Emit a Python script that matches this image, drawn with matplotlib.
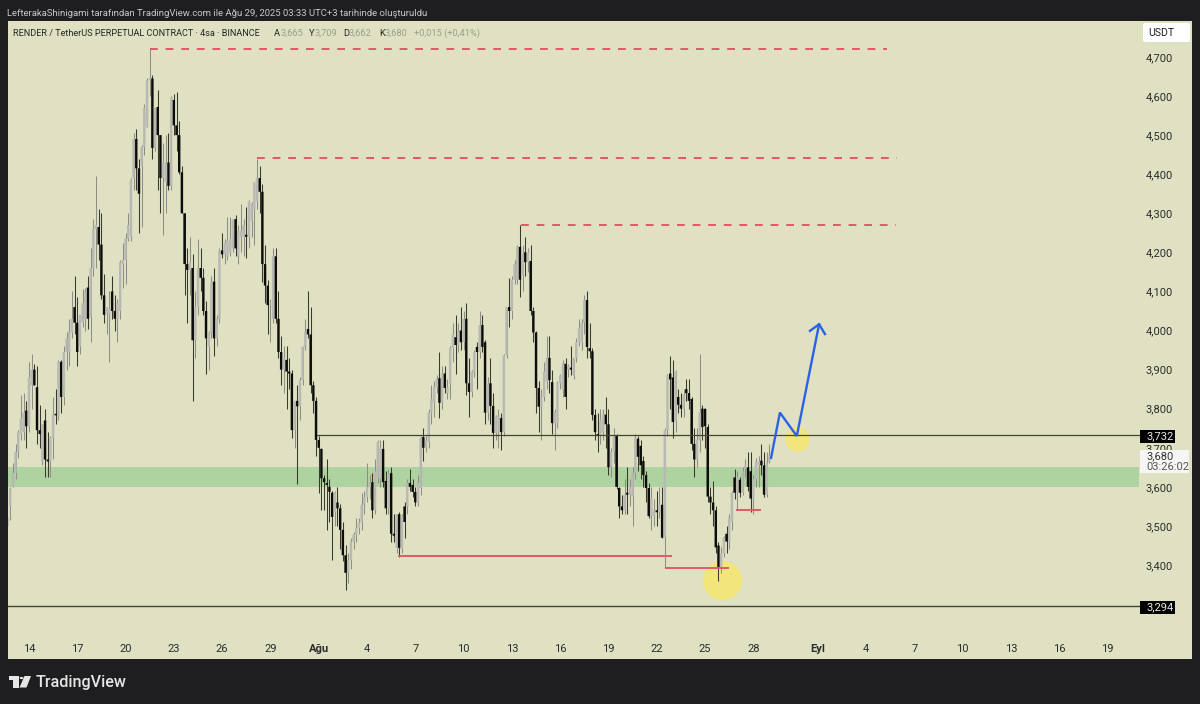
import matplotlib
matplotlib.use("Agg")
import matplotlib.pyplot as plt
from matplotlib.patches import Rectangle, Polygon, Circle, FancyBboxPatch

# 4h candles, starting ~Jul 12 20:00
opens = [3.50, 3.55, 3.60, 3.635, 3.69, 3.735, 3.74, 3.795, 3.755, 3.86,
         3.90, 3.855, 3.745, 3.665, 3.77, 3.67, 3.665, 3.725, 3.787, 3.78,
         3.92, 3.83, 3.945, 3.945, 3.995, 4.06, 4.02, 3.96, 4.02, 4.03,
         4.11, 4.035, 4.16, 4.26, 4.265, 4.22, 4.09, 4.045, 4.04, 4.10,
         4.05, 4.03, 4.05, 4.17, 4.18, 4.235, 4.24, 4.39, 4.49, 4.415,
         4.42, 4.47, 4.52, 4.64, 4.645, 4.467, 4.572, 4.50, 4.39, 4.38,
         4.43, 4.37, 4.59, 4.525, 4.50, 4.405, 4.30, 4.17, 4.155, 4.16,
         3.975, 4.06, 4.16, 4.135, 4.05, 3.96, 3.995, 4.125, 3.98, 4.03,
         4.205, 4.195, 4.19, 4.20, 4.21, 4.285, 4.19, 4.24, 4.24, 4.245,
         4.24, 4.28, 4.31, 4.33, 4.39, 4.355, 4.17, 4.115, 4.065, 4.03,
         4.19, 4.03, 3.945, 3.90, 3.925, 3.895, 3.89, 3.745, 3.82, 3.806,
         3.873, 3.958, 4.004, 3.99, 3.86, 3.82, 3.72, 3.697, 3.622, 3.61,
         3.60, 3.585, 3.535, 3.56, 3.545, 3.49, 3.425, 3.38, 3.413, 3.46,
         3.478, 3.495, 3.51, 3.554, 3.574, 3.60, 3.612, 3.54, 3.622, 3.62,
         3.697, 3.615, 3.545, 3.635, 3.48, 3.444, 3.53, 3.44, 3.55, 3.55,
         3.61, 3.605, 3.587, 3.56, 3.597, 3.727, 3.70, 3.715, 3.79, 3.815,
         3.855, 3.878, 3.815, 3.89, 3.84, 3.865, 3.955, 3.983, 3.963, 4.00,
         3.97, 4.03, 3.865, 3.843, 3.895, 3.958, 3.945, 4.014, 3.97, 3.79,
         3.865, 3.807, 3.738, 3.74, 3.776, 3.74, 3.937, 4.06, 4.05, 4.13,
         4.13, 4.214, 4.14, 4.20, 4.175, 4.178, 4.05, 3.995, 3.853, 3.805,
         3.83, 3.87, 3.93, 3.868, 3.763, 3.763, 3.865, 3.85, 3.915, 3.90,
         3.905, 3.885, 3.93, 3.97, 3.97, 4.02, 4.078, 3.955, 3.947, 3.784,
         3.735, 3.73, 3.74, 3.785, 3.76, 3.65, 3.69, 3.73, 3.597, 3.55,
         3.54, 3.585, 3.58, 3.575, 3.635, 3.723, 3.705, 3.666, 3.63, 3.597,
         3.525, 3.525, 3.54, 3.535, 3.554, 3.47, 3.745, 3.89, 3.88, 3.766,
         3.83, 3.81, 3.80, 3.85, 3.84, 3.825, 3.71, 3.67, 3.72, 3.80,
         3.80, 3.753, 3.575, 3.56, 3.54, 3.45, 3.395, 3.43, 3.48, 3.46,
         3.51, 3.624, 3.585, 3.618, 3.585, 3.645, 3.65, 3.64, 3.57, 3.62,
         3.655, 3.667, 3.655, 3.58, 3.665]
highs = [3.53, 3.60, 3.66, 3.71, 3.745, 3.835, 3.84, 3.82, 3.92, 3.94,
         3.915, 3.91, 3.81, 3.76, 3.80, 3.74, 3.73, 3.83, 3.85, 3.925,
         3.925, 3.96, 3.995, 4.03, 4.10, 4.14, 4.085, 4.04, 4.105, 4.11,
         4.14, 4.21, 4.285, 4.395, 4.31, 4.30, 4.145, 4.06, 4.10, 4.14,
         4.09, 4.08, 4.18, 4.225, 4.25, 4.30, 4.39, 4.505, 4.515, 4.44,
         4.475, 4.58, 4.645, 4.72, 4.655, 4.57, 4.615, 4.50, 4.48, 4.50,
         4.505, 4.60, 4.605, 4.61, 4.535, 4.42, 4.30, 4.21, 4.24, 4.195,
         4.10, 4.235, 4.21, 4.16, 4.075, 4.00, 4.14, 4.16, 4.04, 4.21,
         4.25, 4.235, 4.29, 4.29, 4.27, 4.295, 4.27, 4.325, 4.285, 4.315,
         4.335, 4.33, 4.38, 4.44, 4.42, 4.375, 4.22, 4.13, 4.08, 4.21,
         4.21, 4.10, 3.985, 3.96, 3.96, 3.93, 3.90, 3.82, 3.86, 3.88,
         3.96, 4.03, 4.10, 4.06, 3.87, 3.83, 3.73, 3.70, 3.63, 3.67,
         3.62, 3.59, 3.59, 3.60, 3.555, 3.51, 3.45, 3.43, 3.47, 3.485,
         3.52, 3.52, 3.585, 3.59, 3.66, 3.63, 3.635, 3.67, 3.72, 3.72,
         3.72, 3.64, 3.645, 3.65, 3.53, 3.53, 3.535, 3.53, 3.56, 3.62,
         3.645, 3.62, 3.60, 3.63, 3.73, 3.75, 3.73, 3.80, 3.86, 3.87,
         3.885, 3.945, 3.91, 3.91, 3.875, 3.96, 4.02, 4.04, 4.02, 4.06,
         4.05, 4.07, 3.93, 3.90, 3.95, 3.97, 4.05, 4.04, 3.975, 3.88,
         3.93, 3.84, 3.785, 3.80, 3.79, 3.94, 4.06, 4.135, 4.14, 4.18,
         4.22, 4.27, 4.22, 4.24, 4.21, 4.22, 4.06, 4.00, 3.87, 3.85,
         3.92, 3.985, 3.985, 3.90, 3.80, 3.87, 3.89, 3.925, 3.93, 3.915,
         3.96, 3.93, 3.98, 4.03, 4.03, 4.09, 4.10, 4.02, 3.955, 3.80,
         3.79, 3.80, 3.80, 3.83, 3.80, 3.70, 3.75, 3.735, 3.60, 3.58,
         3.62, 3.65, 3.62, 3.65, 3.735, 3.73, 3.72, 3.68, 3.64, 3.61,
         3.60, 3.57, 3.59, 3.60, 3.60, 3.75, 3.89, 3.935, 3.925, 3.90,
         3.85, 3.84, 3.85, 3.875, 3.875, 3.83, 3.75, 3.75, 3.94, 3.81,
         3.80, 3.76, 3.60, 3.615, 3.55, 3.46, 3.445, 3.475, 3.50, 3.53,
         3.59, 3.645, 3.64, 3.625, 3.65, 3.67, 3.69, 3.69, 3.63, 3.675,
         3.68, 3.71, 3.69, 3.69, 3.709]
lows = [3.44, 3.515, 3.60, 3.62, 3.675, 3.72, 3.72, 3.70, 3.74, 3.80,
        3.86, 3.71, 3.70, 3.655, 3.625, 3.625, 3.625, 3.67, 3.76, 3.77,
        3.79, 3.81, 3.90, 3.91, 3.98, 3.99, 3.91, 3.94, 4.01, 4.00,
        4.005, 3.97, 4.14, 4.16, 4.18, 4.08, 4.02, 3.99, 3.92, 4.03,
        4.00, 3.97, 4.03, 4.11, 4.12, 4.23, 4.23, 4.36, 4.36, 4.25,
        4.265, 4.45, 4.52, 4.60, 4.44, 4.46, 4.36, 4.30, 4.245, 4.30,
        4.36, 4.36, 4.50, 4.46, 4.40, 4.30, 4.09, 4.02, 4.09, 3.82,
        3.93, 4.04, 4.10, 4.04, 3.89, 3.90, 3.98, 3.935, 3.96, 4.02,
        4.185, 4.17, 4.18, 4.19, 4.20, 4.19, 4.17, 4.20, 4.19, 4.185,
        4.21, 4.24, 4.22, 4.31, 4.30, 4.125, 4.07, 3.99, 3.97, 4.02,
        4.02, 3.93, 3.86, 3.84, 3.80, 3.85, 3.725, 3.70, 3.607, 3.77,
        3.86, 3.95, 3.98, 3.84, 3.79, 3.68, 3.585, 3.54, 3.54, 3.49,
        3.51, 3.413, 3.50, 3.50, 3.44, 3.41, 3.336, 3.355, 3.39, 3.44,
        3.46, 3.48, 3.49, 3.53, 3.56, 3.57, 3.52, 3.53, 3.61, 3.60,
        3.60, 3.53, 3.53, 3.46, 3.46, 3.43, 3.42, 3.43, 3.47, 3.53,
        3.59, 3.575, 3.55, 3.55, 3.58, 3.665, 3.69, 3.70, 3.76, 3.78,
        3.84, 3.775, 3.80, 3.84, 3.825, 3.825, 3.92, 3.89, 3.945, 3.95,
        3.95, 3.835, 3.78, 3.83, 3.88, 3.85, 3.93, 3.945, 3.76, 3.77,
        3.76, 3.70, 3.72, 3.70, 3.695, 3.73, 3.93, 4.01, 4.03, 4.12,
        4.12, 4.085, 4.10, 4.14, 4.15, 4.04, 3.97, 3.79, 3.74, 3.72,
        3.82, 3.85, 3.84, 3.735, 3.695, 3.75, 3.85, 3.83, 3.80, 3.88,
        3.885, 3.875, 3.92, 3.96, 3.95, 3.99, 3.93, 3.93, 3.77, 3.72,
        3.69, 3.71, 3.72, 3.70, 3.63, 3.625, 3.66, 3.595, 3.52, 3.53,
        3.53, 3.53, 3.55, 3.50, 3.62, 3.64, 3.62, 3.60, 3.56, 3.52,
        3.49, 3.50, 3.50, 3.52, 3.47, 3.393, 3.73, 3.80, 3.725, 3.74,
        3.79, 3.78, 3.78, 3.82, 3.80, 3.695, 3.625, 3.65, 3.69, 3.72,
        3.70, 3.56, 3.53, 3.50, 3.43, 3.36, 3.38, 3.42, 3.43, 3.44,
        3.49, 3.57, 3.54, 3.575, 3.58, 3.625, 3.59, 3.535, 3.53, 3.60,
        3.60, 3.63, 3.575, 3.575, 3.662]
closes = [3.52, 3.595, 3.635, 3.69, 3.74, 3.775, 3.79, 3.755, 3.88, 3.90,
          3.86, 3.745, 3.735, 3.76, 3.67, 3.665, 3.725, 3.785, 3.783, 3.92,
          3.83, 3.945, 3.98, 3.995, 4.03, 4.02, 3.945, 4.04, 4.07, 4.10,
          4.03, 4.16, 4.26, 4.27, 4.22, 4.09, 4.04, 4.06, 4.055, 4.05,
          4.03, 4.07, 4.175, 4.18, 4.235, 4.27, 4.385, 4.49, 4.415, 4.35,
          4.47, 4.57, 4.64, 4.645, 4.467, 4.57, 4.50, 4.39, 4.43, 4.43,
          4.37, 4.595, 4.525, 4.50, 4.405, 4.30, 4.17, 4.155, 4.175, 3.975,
          4.06, 4.16, 4.135, 4.05, 3.98, 3.995, 4.125, 3.98, 4.03, 4.205,
          4.195, 4.225, 4.23, 4.235, 4.285, 4.21, 4.255, 4.255, 4.27, 4.24,
          4.33, 4.325, 4.378, 4.39, 4.355, 4.17, 4.115, 4.065, 4.07, 4.19,
          4.03, 3.945, 3.90, 3.93, 3.895, 3.89, 3.745, 3.82, 3.806, 3.873,
          3.958, 3.996, 3.99, 3.86, 3.82, 3.72, 3.70, 3.622, 3.612, 3.605,
          3.587, 3.523, 3.585, 3.545, 3.49, 3.425, 3.38, 3.413, 3.46, 3.478,
          3.495, 3.51, 3.554, 3.574, 3.60, 3.612, 3.54, 3.64, 3.715, 3.70,
          3.612, 3.545, 3.635, 3.48, 3.475, 3.53, 3.444, 3.525, 3.51, 3.61,
          3.60, 3.587, 3.56, 3.61, 3.725, 3.70, 3.72, 3.79, 3.825, 3.855,
          3.875, 3.815, 3.89, 3.853, 3.855, 3.955, 3.99, 3.963, 4.00, 3.97,
          4.03, 3.865, 3.843, 3.895, 3.945, 3.945, 4.014, 3.958, 3.79, 3.865,
          3.807, 3.738, 3.78, 3.78, 3.74, 3.937, 4.06, 4.05, 4.13, 4.17,
          4.214, 4.13, 4.195, 4.175, 4.20, 4.05, 3.995, 3.853, 3.805, 3.83,
          3.895, 3.93, 3.873, 3.763, 3.79, 3.865, 3.885, 3.915, 3.83, 3.91,
          3.90, 3.93, 3.97, 4.005, 4.02, 4.078, 3.958, 3.947, 3.784, 3.74,
          3.73, 3.77, 3.785, 3.76, 3.65, 3.69, 3.73, 3.60, 3.55, 3.54,
          3.58, 3.58, 3.60, 3.635, 3.725, 3.677, 3.655, 3.63, 3.597, 3.525,
          3.57, 3.54, 3.535, 3.555, 3.47, 3.745, 3.885, 3.875, 3.766, 3.895,
          3.81, 3.80, 3.835, 3.84, 3.82, 3.71, 3.67, 3.72, 3.79, 3.753,
          3.755, 3.575, 3.56, 3.54, 3.445, 3.395, 3.43, 3.47, 3.46, 3.52,
          3.585, 3.585, 3.625, 3.585, 3.64, 3.655, 3.60, 3.57, 3.62, 3.665,
          3.665, 3.655, 3.58, 3.66, 3.68]

price_ticks = [3.4, 3.5, 3.6, 3.7, 3.8, 3.9, 4.0, 4.1, 4.2, 4.3, 4.4, 4.5, 4.6, 4.7]
# days since Jul 14
tick_days = [0, 3, 6, 9, 12, 15, 18, 21, 24, 27, 30, 33, 36, 39, 42, 45, 49, 52, 55, 58, 61, 64, 67]
tick_labels = ["14", "17", "20", "23", "26", "29", "Ağu", "4", "7", "10", "13", "16",
               "19", "22", "25", "28", "Eyl", "4", "7", "10", "13", "16", "19"]
bars_per_day = 6
first_tick_bar = 8

# levels drawn on the chart: price, first bar, last bar
dashed_levels = [(4.72, 53.1, 328), (4.4416, 93, 331.7), (4.27, 191.4, 331)]
red_levels = [(3.424, 146, 247.3), (3.393, 245.4, 268.5), (3.54, 271.9, 280.5)]
arrow_bars = [284.6, 287.9, 294.2, 302.5]
arrow_prices = [3.674, 3.79, 3.73, 4.016]
wing_bars = [299.1, 302.5, 304.7]
wing_prices = [3.999, 4.016, 3.991]

BG = "#dfe1c2"
DARK = "#1e1e20"
UP_BODY = "#b9b9b3"
UP_WICK = "#8e8e86"
DOWN = "#0c0c0a"
DOWN_WICK = "#3a3a2c"
RED = "#e25c68"
LINE = "#45452f"
BLUE = "#2b62e6"

plt.rcParams["font.family"] = ["Roboto", "DejaVu Sans"]

W, H = 1200, 704
fig = plt.figure(figsize=(W / 100, H / 100), dpi=100, facecolor=DARK)


def px(x, y):
    # picture pixels to figure fraction
    return x / W, 1 - y / H


ax = fig.add_axes([8 / W, 1 - 659 / H, (1192 - 8) / W, (659 - 21) / H], facecolor=BG)
x_left, x_right = 0.19, 441.5
scale_x = 421.7
ax.set_xlim(x_left, x_right)
ax.set_ylim(3.1595, 4.792)
for s in ax.spines.values():
    s.set_visible(False)

ax.fill_between([x_left, scale_x], 3.60, 3.651, color="#aed3a0", lw=0, zorder=1)

for i in range(len(closes)):
    up = closes[i] >= opens[i]
    ax.vlines(i, lows[i], highs[i], color=UP_WICK if up else DOWN_WICK, lw=0.75, zorder=3)
    ax.bar(i, abs(closes[i] - opens[i]), bottom=min(opens[i], closes[i]), width=0.9,
           color=UP_BODY if up else DOWN, lw=0, zorder=3, snap=False)

for price, x0, x1 in dashed_levels:
    ax.plot([x0, x1], [price, price], color=RED, lw=1.44, ls=(0, (3.9, 3.9)), zorder=4)
for price, x0, x1 in red_levels:
    ax.plot([x0, x1], [price, price], color=RED, lw=1.44, zorder=4)

ax.plot([115.4, scale_x], [3.732, 3.732], color=LINE, lw=0.9, zorder=4)
ax.plot([x_left, scale_x], [3.294, 3.294], color=LINE, lw=1.0, zorder=4)

# highlight circles sit under the candles
ax.scatter([266.3], [3.362], s=800, color="#f1e57c", lw=0, zorder=2)
ax.scatter([294.2], [3.722], s=310, color="#f1e57c", lw=0, zorder=2)

ax.plot(arrow_bars, arrow_prices, color=BLUE, lw=1.7, solid_joinstyle="miter", zorder=5)
ax.plot(wing_bars, wing_prices, color=BLUE, lw=1.7, zorder=5)

ax.set_xticks([first_tick_bar + d * bars_per_day for d in tick_days])
ax.set_xticklabels(tick_labels, fontsize=8, color="#2b2b2b")
for lab in ax.get_xticklabels():
    if lab.get_text() in ("Ağu", "Eyl"):
        lab.set_fontweight("bold")
ax.tick_params(axis="x", length=0, pad=-10.5)

ax.yaxis.tick_right()
ax.set_yticks(price_ticks)
ax.set_yticklabels([f"{p:.3f}".replace(".", ",") for p in price_ticks], fontsize=8,
                   color="#2b2b2b", va="center_baseline")
ax.tick_params(axis="y", length=0, pad=-33.5)

# price scale labels in picture pixels
def add_box(x0, y0, x1, y1, color):
    xa, ya = px(x0, y1)
    fig.add_artist(Rectangle((xa, ya), (x1 - x0) / W, (y1 - y0) / H, transform=fig.transFigure,
                             fc=color, ec="none", zorder=6))


def add_text(x, y, s, **kw):
    xa, ya = px(x, y)
    kw.setdefault("va", "center")
    kw.setdefault("zorder", 7)
    fig.text(xa, ya, s, **kw)


add_box(1140, 430, 1175, 443, "#000000")
add_text(1146.5, 436.5, "3,732", color="#e8e8e8", fontsize=8)
add_box(1140, 601, 1175, 614, "#000000")
add_text(1146.5, 607.5, "3,294", color="#e8e8e8", fontsize=8)
add_box(1140, 450, 1189, 473, "#f6f6f4")
add_text(1146.5, 456.5, "3,680", color="#333333", fontsize=8)
add_text(1146.5, 466.5, "03:26:02", color="#555555", fontsize=8)

usdt = FancyBboxPatch(px(1143, 42), 47 / W, 19 / H, transform=fig.transFigure,
                      boxstyle="round,pad=0,rounding_size=0.002", fc="#ffffff", ec="none", zorder=6)
fig.add_artist(usdt)
add_text(1161, 32.5, "USDT", color="#222222", fontsize=7.6, ha="center")

add_text(7, 13, "LefterakaShinigami tarafından TradingView.com ile Ağu 29, 2025 03:33 UTC+3 tarihinde oluşturuldu",
         color="#c9c9c9", fontsize=6.8)
add_text(13, 33, "RENDER / TetherUS PERPETUAL CONTRACT · 4sa · BINANCE", color="#262626", fontsize=6.62)
for x, s, c in [(274, "A", "#262626"), (281, "3,665", "#9c9d8a"),
                (309, "Y", "#262626"), (315, "3,709", "#9c9d8a"),
                (343, "D", "#262626"), (349, "3,662", "#9c9d8a"),
                (379, "K", "#262626"), (385, "3,680", "#9c9d8a"),
                (414, "+0,015 (+0,41%)", "#9c9d8a")]:
    add_text(x, 33, s, color=c, fontsize=6.7)

# logo
logo = "#e6e6e6"
for pts in [[(8.5, 676), (19, 676), (19, 687.5), (12.5, 687.5), (12.5, 679.5), (8.5, 679.5)],
            [(24.5, 676), (31, 676), (26.5, 687.5), (19.5, 687.5)]]:
    fig.add_artist(Polygon([px(*p) for p in pts], transform=fig.transFigure, fc=logo, ec="none"))
cx, cy = px(21.5, 678)
fig.add_artist(Circle((cx, cy), 1.9 / W, transform=fig.transFigure, fc=logo, ec="none"))
add_text(36, 682, "TradingView", color=logo, fontsize=11.6, fontweight="medium")

fig.savefig("out.png", dpi=100, facecolor=DARK)
